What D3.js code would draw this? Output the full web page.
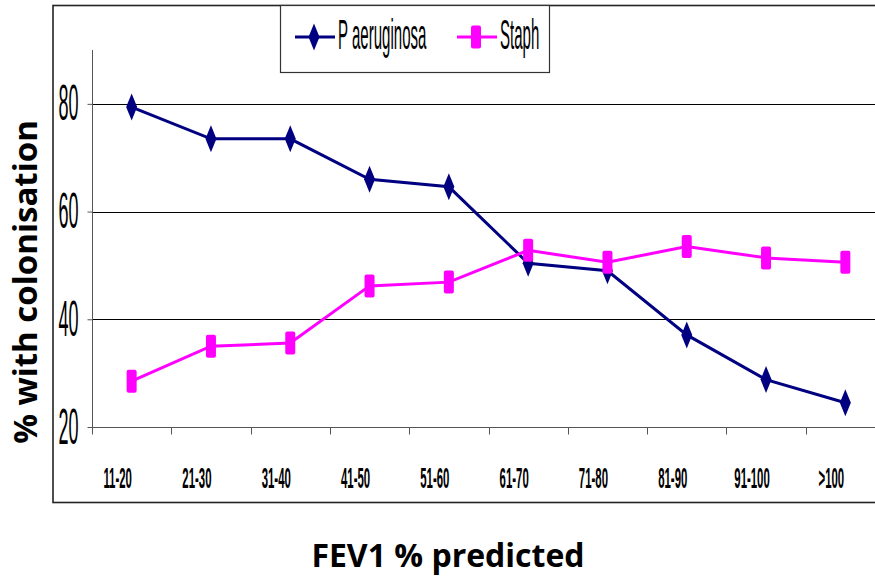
<!DOCTYPE html>
<html lang="en">
  <head>
    <meta charset="utf-8" />
    <title>Colonisation by FEV1</title>
    <script type="text/javascript" src="https://cdn.jsdelivr.net/npm/d3@7"></script>
    <style type="text/css">
      body {
        margin: 0;
        background: #fff;
      }
      .narrow {
        font-family: "Liberation Sans", Arial, sans-serif;
        fill: #000;
      }
      .title {
        font-family: "Open Sans", sans-serif;
        font-weight: bold;
        fill: #000;
      }
    </style>
  </head>
  <body>
    <script type="text/javascript">
      var w = 875;
      var h = 576;

      // values
      var categories = ["11-20", "21-30", "31-40", "41-50", "51-60",
                        "61-70", "71-80", "81-90", "91-100", ">100"];
      var paeruginosa = [79.4, 73.5, 73.5, 66.0, 64.6, 50.4, 49.0, 37.1, 28.8, 24.5];
      var staph = [28.5, 35.0, 35.6, 46.2, 46.9, 52.8, 50.6, 53.5, 51.4, 50.6];
      var yTicks = [20, 40, 60, 80];
      var seriesNames = ["P aeruginosa", "Staph"];
      var seriesColors = ["#000080", "#ff00ff"];

      var plotLeft = 92, plotRight = 885, plotTop = 50, plotBottom = 427;
      var squeeze = 0.38; // the original text is very condensed

      var xScale = d3.scaleBand()
        .domain(categories)
        .range([plotLeft, plotRight])
        .padding(0);

      var yScale = d3.scaleLinear()
        .domain([20, 90])
        .range([plotBottom, plotTop]);

      var svg = d3.select("body")
        .append("svg")
        .attr("width", w)
        .attr("height", h);

      //outer chart border, runs off the right edge like the original
      svg.append("rect")
        .attr("x", 53)
        .attr("y", 5.5)
        .attr("width", 900)
        .attr("height", 497)
        .attr("fill", "none")
        .attr("stroke", "#222")
        .attr("stroke-width", 1.6);

      //gridlines
      svg.selectAll("line.grid")
        .data(yTicks.slice(1))
        .enter()
        .append("line")
        .attr("class", "grid")
        .attr("x1", plotLeft)
        .attr("x2", plotRight)
        .attr("y1", function (d) { return Math.round(yScale(d)) + 0.5; })
        .attr("y2", function (d) { return Math.round(yScale(d)) + 0.5; })
        .attr("stroke", "#000")
        .attr("stroke-width", 1);

      //y axis
      var yAxis = svg.append("g")
        .attr("transform", "translate(" + (plotLeft + 0.5) + ",0)")
        .call(d3.axisLeft(yScale).tickValues(yTicks).tickSize(5).tickFormat(""));
      yAxis.select(".domain")
        .attr("d", "M0," + plotTop + "V" + plotBottom)
        .attr("stroke", "#555");
      yAxis.selectAll(".tick line").attr("stroke", "#555");

      yAxis.selectAll(".tick")
        .append("text")
        .attr("class", "narrow")
        .attr("text-anchor", "end")
        .attr("font-size", 50)
        .attr("fill", "#000")
        .attr("transform", "translate(-14,16) scale(0.36,1)")
        .text(function (d) { return d; });

      //x axis
      var xAxis = svg.append("g")
        .attr("transform", "translate(0," + (plotBottom + 0.5) + ")");
      xAxis.append("line")
        .attr("x1", plotLeft)
        .attr("x2", plotRight)
        .attr("stroke", "#555");
      xAxis.selectAll("line.xtick")
        .data(categories)
        .enter()
        .append("line")
        .attr("class", "xtick")
        .attr("x1", function (d) { return Math.round(xScale(d)) + 0.5; })
        .attr("x2", function (d) { return Math.round(xScale(d)) + 0.5; })
        .attr("y1", 0)
        .attr("y2", 7)
        .attr("stroke", "#555");
      xAxis.selectAll("text")
        .data(categories)
        .enter()
        .append("text")
        .attr("class", "narrow")
        .attr("text-anchor", "middle")
        .attr("font-size", 30)
        .attr("font-weight", "bold")
        .attr("transform", function (d) {
          var cx = xScale(d) + xScale.bandwidth() / 2 - 14;
          return "translate(" + cx + ",60) scale(" + squeeze + ",1)";
        })
        .text(function (d) { return d; });

      //series lines and markers
      var line = d3.line()
        .x(function (d, i) { return xScale(categories[i]) + xScale.bandwidth() / 2; })
        .y(function (d) { return yScale(d); });

      var diamond = "M0,-13.5L5.5,0L0,13.5L-5.5,0Z";

      function drawMarker(sel, k) {
        if (k === 0) {
          sel.append("path").attr("d", diamond).attr("fill", seriesColors[0]);
        } else {
          sel.append("rect")
            .attr("x", -5).attr("y", -11.5)
            .attr("width", 10).attr("height", 23)
            .attr("rx", 2)
            .attr("fill", seriesColors[1]);
        }
      }

      [paeruginosa, staph].forEach(function (series, k) {
        svg.append("path")
          .datum(series)
          .attr("d", line)
          .attr("fill", "none")
          .attr("stroke", seriesColors[k])
          .attr("stroke-width", 3);

        svg.selectAll("g.m" + k)
          .data(series)
          .enter()
          .append("g")
          .attr("class", "m" + k)
          .attr("transform", function (d, i) {
            return "translate(" + (xScale(categories[i]) + xScale.bandwidth() / 2) + "," + yScale(d) + ")";
          })
          .each(function () { drawMarker(d3.select(this), k); });
      });

      //legend
      var legend = svg.append("g");
      legend.append("rect")
        .attr("x", 280.5)
        .attr("y", 5.5)
        .attr("width", 269)
        .attr("height", 67)
        .attr("fill", "#fff")
        .attr("stroke", "#333")
        .attr("stroke-width", 1.2);

      var legendX = [295, 457];
      seriesNames.forEach(function (name, k) {
        var g = legend.append("g").attr("transform", "translate(" + legendX[k] + ",37)");
        g.append("line")
          .attr("x1", 0).attr("x2", 40)
          .attr("stroke", seriesColors[k])
          .attr("stroke-width", 3);
        drawMarker(g.append("g").attr("transform", "translate(19,0)"), k);
        g.append("text")
          .attr("class", "narrow")
          .attr("font-size", 43)
          .attr("transform", "translate(43,12) scale(0.35,1)")
          .text(name);
      });

      //axis titles
      svg.append("text")
        .attr("class", "title")
        .attr("text-anchor", "middle")
        .attr("font-size", 33)
        .attr("transform", "translate(37,282) rotate(-90)")
        .text("% with colonisation");

      svg.append("text")
        .attr("class", "title")
        .attr("text-anchor", "middle")
        .attr("font-size", 32)
        .attr("x", 448)
        .attr("y", 567)
        .text("FEV1 % predicted");
    </script>
  </body>
</html>
